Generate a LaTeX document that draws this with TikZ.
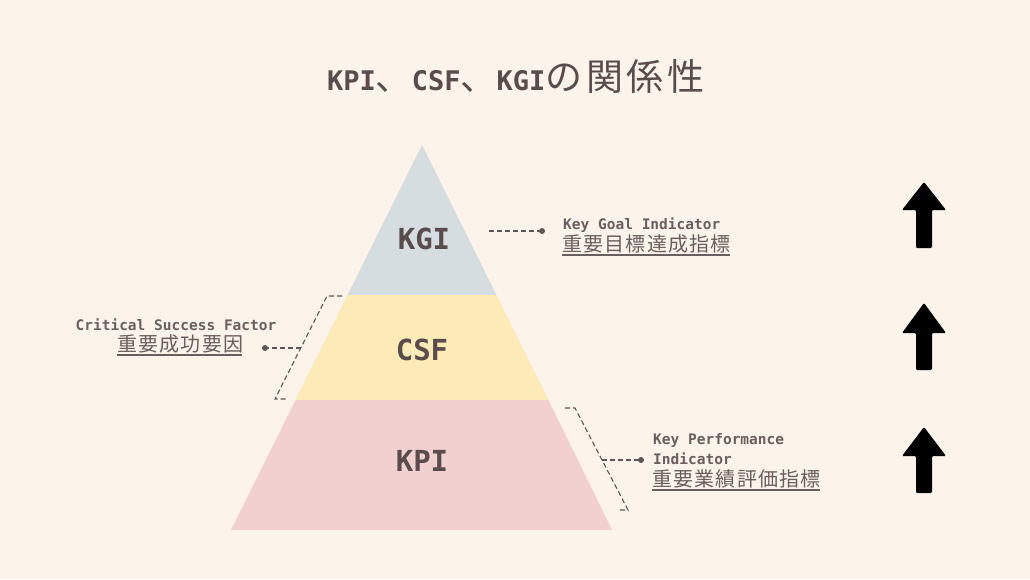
\documentclass[tikz,border=0pt]{standalone}
\usepackage{fontspec}
\newfontfamily\jp{Noto Sans CJK JP}
\newfontfamily\jpt[LetterSpace=10]{Noto Sans CJK JP}
\newfontfamily\jpl[LetterSpace=6]{Noto Sans CJK JP}
\newfontfamily\mono{DejaVu Sans Mono}
\newfontfamily\monob{DejaVu Sans Mono Bold}
\definecolor{bgc}{HTML}{FCF3EA}
\definecolor{kgic}{HTML}{D5DDE0}
\definecolor{csfc}{HTML}{FDEBB7}
\definecolor{kpic}{HTML}{F2D0D0}
\definecolor{txt}{HTML}{5A4C4C}
\definecolor{lbl}{HTML}{6A5E5E}
\definecolor{dashc}{HTML}{5E5555}
\tikzset{
  lvl/.style={font=\monob\fontsize{29}{30}\selectfont, text=txt, inner sep=0pt},
  en/.style={font=\monob\fontsize{14.5}{16}\selectfont, text=lbl, inner sep=0pt},
  ja/.style={font=\jpl\fontsize{20}{22}\selectfont, text=lbl, inner sep=0pt},
  uline/.style={draw=lbl, line width=1.2pt},
  dashln/.style={draw=dashc, line width=1.1pt, dash pattern=on 5pt off 3pt},
  dotc/.style={circle, fill=dashc, inner sep=0pt, minimum size=6pt},
  blk/.style={fill=black, rounded corners=1.2pt}
}
\begin{document}
\begin{tikzpicture}[x=1pt,y=-1pt]
\fill[bgc] (0,0) rectangle (1030,579);
\useasboundingbox (0,0) rectangle (1030,579);
% title
\node[anchor=base west, inner sep=0pt, text=txt] (title) at (327,90)
  {\monob\fontsize{27}{30}\selectfont KPI{\jp\fontsize{36}{38}\selectfont 、}CSF{\jp\fontsize{36}{38}\selectfont 、}KGI{\jpt\fontsize{37}{38}\selectfont の関係性}};
% pyramid
\coordinate (apex) at (422,145);
\coordinate (bl) at (231,530);
\coordinate (br) at (612,530);
\coordinate (l1) at (347.6,295);
\coordinate (r1) at (496.4,295);
\coordinate (l2) at (295.5,400);
\coordinate (r2) at (548.5,400);
\fill[kgic] (apex) -- (r1) -- (l1) -- cycle;
\fill[csfc] (l1) -- (r1) -- (r2) -- (l2) -- cycle;
\fill[kpic] (l2) -- (r2) -- (br) -- (bl) -- cycle;
\node[lvl] (kgi) at (424,239) {KGI};
\node[lvl] (csf) at (422,350) {CSF};
\node[lvl] (kpi) at (422,461) {KPI};
% KGI label
\coordinate (kgistart) at (489,231);
\node[dotc] (kgidot) at (542,231) {};
\draw[dashln] (kgistart) -- (kgidot);
\node[en, anchor=base west] (kgien) at (563,229) {Key Goal Indicator};
\node[ja, anchor=base west] (kgija) at (562,251) {重要目標達成指標};
\draw[uline] ([yshift=-4pt]kgija.base west) -- ([yshift=-4pt,xshift=-1pt]kgija.base east);
% CSF label
\coordinate (cb1) at (342,296);
\coordinate (cb2) at (327,296);
\coordinate (cb3) at (275,399);
\coordinate (cb4) at (288,399);
\coordinate (cbm) at (301,348);
\draw[dashln] (cb1) -- (cb2) -- (cb3) -- (cb4);
\node[dotc] (csfdot) at (265,348) {};
\draw[dashln] (cbm) -- (csfdot);
\node[en, anchor=base] (csfen) at (176,330) {Critical Success Factor};
\node[ja, anchor=base west] (csfja) at (117,351) {重要成功要因};
\draw[uline] ([yshift=-4pt]csfja.base west) -- ([yshift=-4pt,xshift=-1pt]csfja.base east);
% KPI label
\coordinate (pb1) at (565,408);
\coordinate (pb2) at (575,408);
\coordinate (pb3) at (628,510);
\coordinate (pb4) at (617,510);
\coordinate (pbm) at (602,460);
\draw[dashln] (pb1) -- (pb2) -- (pb3) -- (pb4);
\node[dotc] (kpidot) at (641,460) {};
\draw[dashln] (pbm) -- (kpidot);
\node[en, anchor=base west] (kpien1) at (653,444) {Key Performance};
\node[en, anchor=base west] (kpien2) at (653,464) {Indicator};
\node[ja, anchor=base west] (kpija) at (652,486) {重要業績評価指標};
\draw[uline] ([yshift=-4pt]kpija.base west) -- ([yshift=-4pt,xshift=-1pt]kpija.base east);
% arrows
\foreach \t/\w/\b in {182/210/248, 303/333/370, 427/456/493}{
  \fill[blk] (924,\t) -- (946,\w) -- (932,\w) -- (932,\b) -- (916,\b) -- (916,\w) -- (902,\w) -- cycle;
}
\end{tikzpicture}
\end{document}
